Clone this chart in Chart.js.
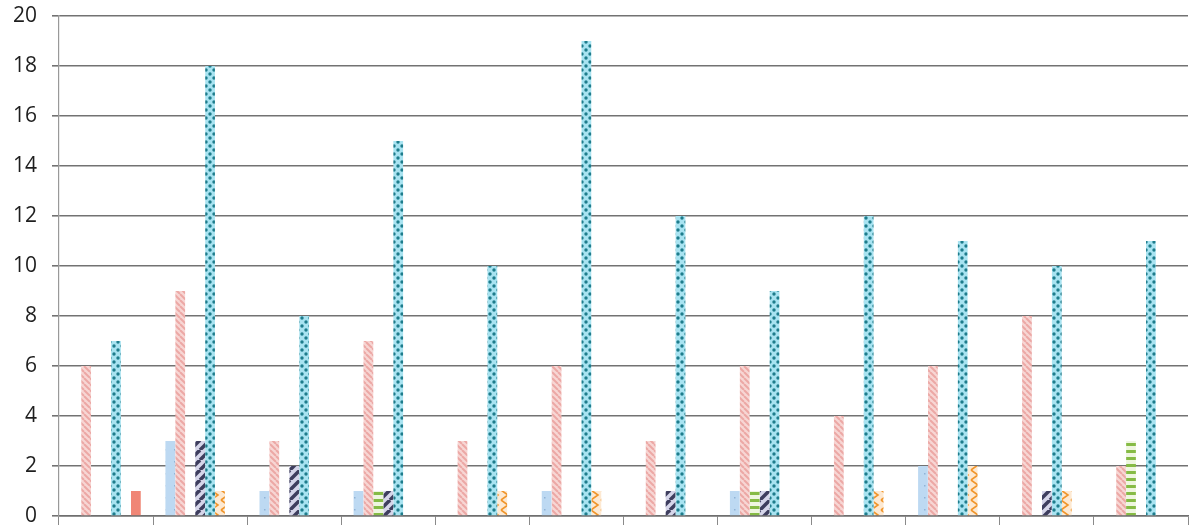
<!DOCTYPE html>
<html>
<head>
<meta charset="utf-8">
<script src="https://cdn.jsdelivr.net/npm/chart.js@4"></script>
<style>
  html, body { margin: 0; padding: 0; background: #fff; }
  #wrap { width: 1199px; height: 525px; }
</style>
</head>
<body>
<div id="wrap"><canvas id="c" width="1199" height="525"></canvas></div>
<script>
// ---- data ----
const categories = ['1','2','3','4','5','6','7','8','9','10','11','12'];
const seriesBlue   = [0, 3, 1, 1, 0, 1, 0, 1, 0, 2, 0, 0];
const seriesPink   = [6, 9, 3, 7, 3, 6, 3, 6, 4, 6, 8, 2];
const seriesGreen  = [0, 0, 0, 1, 0, 0, 0, 1, 0, 0, 0, 3];
const seriesNavy   = [0, 3, 2, 1, 0, 0, 1, 1, 0, 0, 1, 0];
const seriesTeal   = [7, 18, 8, 15, 10, 19, 12, 9, 12, 11, 10, 11];
const seriesOrange = [0, 1, 0, 0, 1, 1, 0, 0, 1, 2, 1, 0];
const seriesRed    = [1, 0, 0, 0, 0, 0, 0, 0, 0, 0, 0, 0];
const yTicks = [0, 2, 4, 6, 8, 10, 12, 14, 16, 18, 20];

// ---- patterns ----
function pattern(w, h, bg, draw) {
  const cv = document.createElement('canvas');
  cv.width = w; cv.height = h;
  const g = cv.getContext('2d');
  g.fillStyle = bg; g.fillRect(0, 0, w, h);
  draw(g);
  return g.createPattern(cv, 'repeat');
}
const ctx = document.getElementById('c').getContext('2d');

const pBlue = pattern(10, 12, '#bdd9f2', g => {
  g.fillStyle = '#8fb3d6';
  g.fillRect(4, 5, 1.5, 1.5);
});
const pPink = pattern(6, 6, '#f7d6d4', g => {
  g.strokeStyle = '#eca8a5'; g.lineWidth = 2;
  for (let k = -6; k <= 12; k += 6) {
    g.beginPath(); g.moveTo(k, 0); g.lineTo(k + 6, 6); g.stroke();
  }
});
const pGreen = pattern(6, 7, '#eef6df', g => {
  g.fillStyle = '#86bb45';
  g.fillRect(0, 2, 6, 3);
});
const pNavy = pattern(10, 10, '#d6d6ea', g => {
  g.strokeStyle = '#3e3e5e'; g.lineWidth = 3.5;
  for (let k = -10; k <= 20; k += 10) {
    g.beginPath(); g.moveTo(k, 10); g.lineTo(k + 10, 0); g.stroke();
  }
});
const pTeal = pattern(8, 8, '#a8e3f1', g => {
  g.fillStyle = '#1e7c8c';
  g.beginPath(); g.arc(2, 2, 1.7, 0, Math.PI * 2); g.fill();
  g.beginPath(); g.arc(6, 6, 1.7, 0, Math.PI * 2); g.fill();
});
const pOrange = pattern(10, 10, '#fde9d2', g => {
  g.strokeStyle = '#f0952a'; g.lineWidth = 1.6;
  g.beginPath(); g.moveTo(1, 0); g.lineTo(8, 5); g.lineTo(1, 10); g.stroke();
});
const cRed = '#f08676';

const mk = (label, data, bg) => ({ label, data, backgroundColor: bg, borderWidth: 0 });

new Chart(ctx, {
  type: 'bar',
  data: {
    labels: categories,
    datasets: [
      mk('Blue', seriesBlue, pBlue),
      mk('Pink', seriesPink, pPink),
      mk('Green', seriesGreen, pGreen),
      mk('Navy', seriesNavy, pNavy),
      mk('Teal', seriesTeal, pTeal),
      mk('Orange', seriesOrange, pOrange),
      mk('Red', seriesRed, cRed)
    ]
  },
  options: {
    responsive: false,
    animation: false,
    devicePixelRatio: 1,
    layout: { padding: { top: 16, right: 11, left: 0, bottom: 0 } },
    plugins: { legend: { display: false }, tooltip: { enabled: false }, title: { display: false } },
    datasets: { bar: { categoryPercentage: 0.74, barPercentage: 0.98 } },
    scales: {
      x: {
        offset: true,
        grid: { display: true, drawOnChartArea: false, drawTicks: true, tickLength: 9, color: '#8a8a8a', lineWidth: 1, offset: true },
        border: { display: true, color: '#6f6f6f', width: 1.5 },
        ticks: { display: false },
        afterFit: s => { s.height = 9; s.paddingLeft = 0; s.paddingRight = 0; }
      },
      y: {
        min: 0, max: 20,
        afterBuildTicks: s => { s.ticks = yTicks.map(v => ({ value: v })); },
        grid: { color: '#727272', lineWidth: 1.6, drawTicks: true, tickLength: 7 },
        border: { display: true, color: '#999', width: 1.2 },
        ticks: { font: { family: 'Open Sans', size: 21 }, color: '#1e1e1e', padding: 15 },
        afterFit: s => { s.width = 59; s.paddingTop = 0; s.paddingBottom = 0; }
      }
    }
  }
});
</script>
</body>
</html>
